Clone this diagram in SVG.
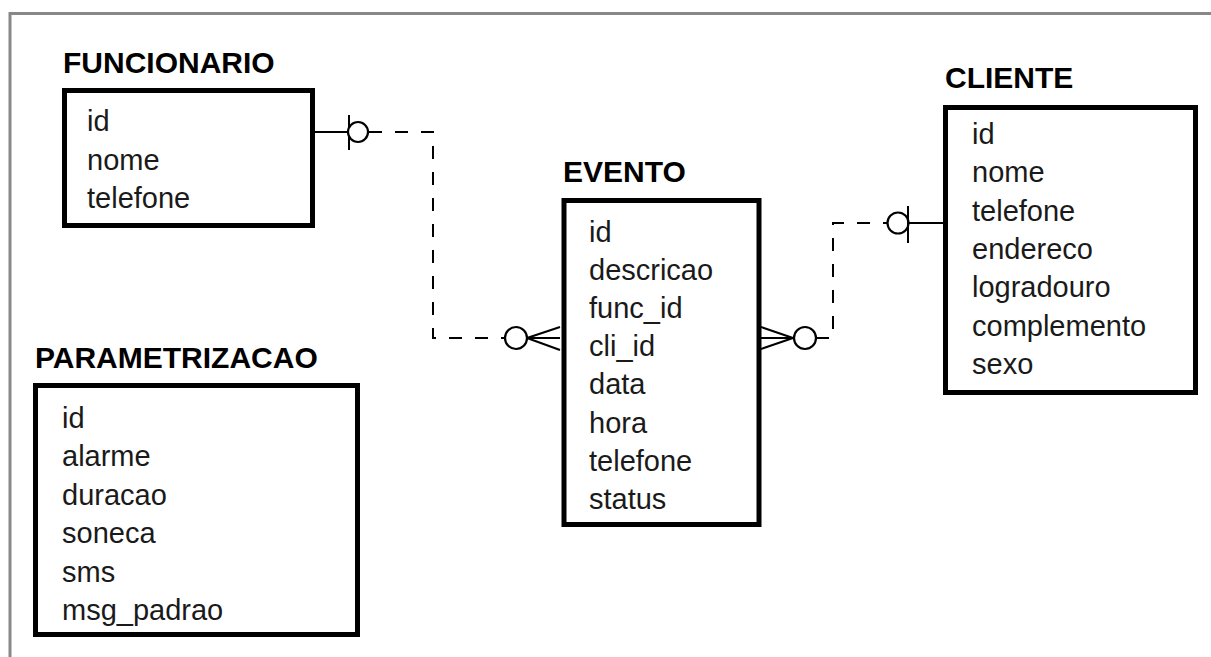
<svg xmlns="http://www.w3.org/2000/svg" width="1211" height="657" viewBox="0 0 1211 657">
<style>
.box{fill:#fff;stroke:#000;stroke-width:5}
.title{font-family:"Liberation Sans",Arial,sans-serif;font-weight:bold;font-size:30px;fill:#000}
.attr{font-family:"Liberation Sans",Arial,sans-serif;font-size:29px;fill:#1a1a1a}
.solid{fill:none;stroke:#000;stroke-width:2}
.dash{fill:none;stroke:#000;stroke-width:2;stroke-dasharray:13 13}
.circ{fill:#fff;stroke:#000;stroke-width:2.2}
</style>
<rect x="0" y="0" width="1211" height="657" fill="#fff"/>
<path d="M10 657 V13.5 H1211" fill="none" stroke="#888" stroke-width="3"/>

<g id="connectors">
  <!-- FUNCIONARIO to EVENTO -->
  <line class="solid" x1="315" y1="132" x2="348" y2="132"/>
  <line class="solid" x1="349" y1="115" x2="349" y2="150"/>
  <circle class="circ" cx="358" cy="132" r="10"/>
  <path class="dash" d="M369 132 H433 V338 H505"/>
  <circle class="circ" cx="516" cy="338" r="11"/>
  <path class="solid" d="M527 338 L560 327 M527 338 H560 M527 338 L560 350"/>
  <!-- EVENTO to CLIENTE -->
  <path class="solid" d="M761 327 L793 338 M761 338 H793 M761 349 L793 338"/>
  <circle class="circ" cx="805" cy="338" r="11"/>
  <path class="dash" d="M816 338 H833 V223 H887"/>
  <circle class="circ" cx="898" cy="223" r="10.5"/>
  <line class="solid" x1="908" y1="206" x2="908" y2="243"/>
  <line class="solid" x1="909" y1="223" x2="944" y2="223"/>
</g>

<g id="funcionario">
  <text class="title" x="63" y="73">FUNCIONARIO</text>
  <rect class="box" x="64.5" y="90.5" width="248" height="135"/>
  <text class="attr" x="87" y="131">id</text>
  <text class="attr" x="87" y="170">nome</text>
  <text class="attr" x="87" y="208">telefone</text>
</g>

<g id="parametrizacao">
  <text class="title" x="35" y="368">PARAMETRIZACAO</text>
  <rect class="box" x="35.5" y="385.5" width="322" height="249"/>
  <text class="attr" x="62" y="428">id</text>
  <text class="attr" x="62" y="466">alarme</text>
  <text class="attr" x="62" y="505">duracao</text>
  <text class="attr" x="62" y="543">soneca</text>
  <text class="attr" x="62" y="582">sms</text>
  <text class="attr" x="62" y="620">msg_padrao</text>
</g>

<g id="evento">
  <text class="title" x="563" y="182">EVENTO</text>
  <rect class="box" x="564" y="200.5" width="195" height="324"/>
  <text class="attr" x="589" y="242">id</text>
  <text class="attr" x="589" y="280">descricao</text>
  <text class="attr" x="589" y="318">func_id</text>
  <text class="attr" x="589" y="356">cli_id</text>
  <text class="attr" x="589" y="394">data</text>
  <text class="attr" x="589" y="433">hora</text>
  <text class="attr" x="589" y="471">telefone</text>
  <text class="attr" x="589" y="509">status</text>
</g>

<g id="cliente">
  <text class="title" x="945" y="88">CLIENTE</text>
  <rect class="box" x="945.5" y="107.5" width="250" height="285"/>
  <text class="attr" x="972" y="144">id</text>
  <text class="attr" x="972" y="182">nome</text>
  <text class="attr" x="972" y="221">telefone</text>
  <text class="attr" x="972" y="259">endereco</text>
  <text class="attr" x="972" y="297">logradouro</text>
  <text class="attr" x="972" y="336">complemento</text>
  <text class="attr" x="972" y="374">sexo</text>
</g>
</svg>
